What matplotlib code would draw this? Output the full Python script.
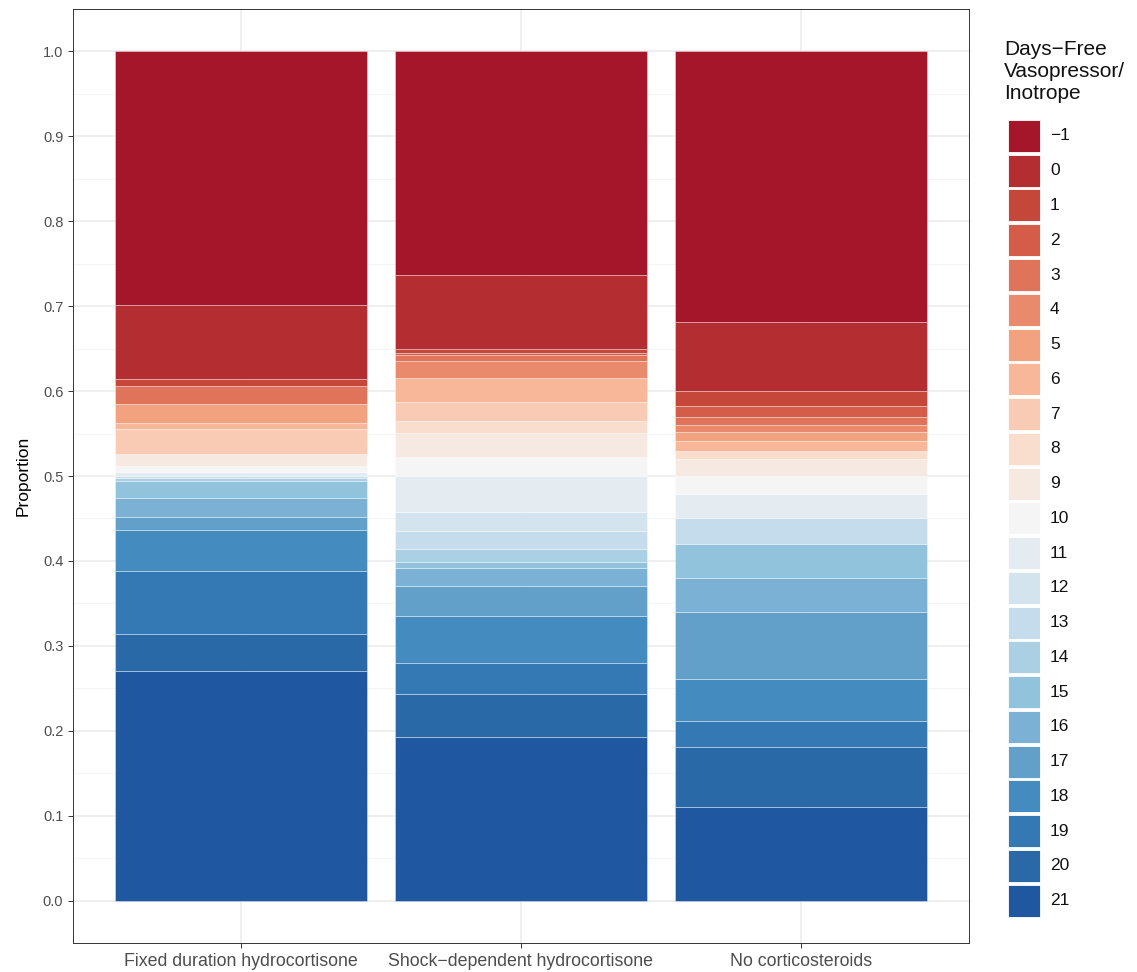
import numpy as np
import matplotlib.pyplot as plt
from matplotlib.patches import Rectangle
from matplotlib.ticker import MultipleLocator, FormatStrFormatter

plt.rcParams['font.family'] = ['Liberation Sans', 'DejaVu Sans']

# treatment arms on the x axis
treatments = ["Fixed duration hydrocortisone",
              "Shock\u2212dependent hydrocortisone",
              "No corticosteroids"]

# outcome levels, -1 = died
days_free = ["\u22121"] + [str(d) for d in range(0, 22)]

# proportion of each arm at each level, ordered -1, 0, 1, ..., 21
fixed_duration = [0.2986, 0.0874, 0.0078, 0.0, 0.0216, 0.0, 0.0216, 0.0071,
                  0.0300, 0.0, 0.0138, 0.0078, 0.0040, 0.0, 0.0030, 0.0028,
                  0.0204, 0.0220, 0.0152, 0.0491, 0.0737, 0.0443, 0.2698]
shock_dependent = [0.2631, 0.0875, 0.0040, 0.0030, 0.0067, 0.0204, 0.0, 0.0286,
                   0.0216, 0.0145, 0.0286, 0.0216, 0.0431, 0.0216, 0.0216, 0.0157,
                   0.0071, 0.0211, 0.0345, 0.0561, 0.0361, 0.0509, 0.1926]
no_steroids = [0.3192, 0.0804, 0.0184, 0.0122, 0.0098, 0.0086, 0.0098, 0.0118,
               0.0, 0.0098, 0.0196, 0.0216, 0.0286, 0.0, 0.0306, 0.0,
               0.0396, 0.0404, 0.0792, 0.0495, 0.0302, 0.0705, 0.1102]

# diverging red-blue fill, one colour per level
palette = ["#A6162A", "#B42D30", "#C4473A", "#D45C48", "#E0745A", "#EA8A6C",
           "#F3A280", "#F7B798", "#FACBB4", "#F9DDCD", "#F6E9E2", "#F5F5F5",
           "#E4ECF1", "#D4E4EF", "#C4DCEB", "#ABD0E4", "#92C3DD", "#7AB1D4",
           "#62A0CA", "#448BBF", "#3479B3", "#2A69A8", "#1F58A0"]

W, H = 1137, 972
fig = plt.figure(figsize=(W / 100, H / 100), dpi=100)
ax = fig.add_axes([73 / W, 1 - 943 / H, (969 - 73) / W, (943 - 9) / H])

props = np.array([fixed_duration, shock_dependent, no_steroids])
x = np.arange(1, len(treatments) + 1)

# stack from the top level down so that -1 ends up at the top
bottom = np.zeros(len(treatments))
for k in reversed(range(len(days_free))):
    h = props[:, k]
    keep = h > 0
    ax.bar(x[keep], h[keep], bottom=bottom[keep], width=0.9,
           color=palette[k], edgecolor=(1, 1, 1, 0.35), linewidth=0.7, zorder=2)
    bottom += h

ax.set_xlim(0.4, 3.6)
ax.set_ylim(-0.05, 1.05)
ax.yaxis.set_major_locator(MultipleLocator(0.1))
ax.yaxis.set_minor_locator(MultipleLocator(0.05))
ax.yaxis.set_major_formatter(FormatStrFormatter('%.1f'))
ax.set_xticks(x)
ax.set_xticklabels(treatments)

ax.set_axisbelow(True)
ax.grid(which='major', color='#EBEBEB', linewidth=1.1)
ax.grid(which='minor', axis='y', color='#F2F2F2', linewidth=0.6)
ax.tick_params(which='minor', length=0)
ax.tick_params(which='major', length=3.5, width=0.7, color='#333333',
               labelcolor='#4D4D4D')
ax.tick_params(axis='y', labelsize=10.5)
ax.tick_params(axis='x', labelsize=12.8, pad=4)
for s in ax.spines.values():
    s.set_color('#333333')
    s.set_linewidth(0.7)

ax.set_ylabel('Proportion', fontsize=12.5, labelpad=9)

# legend drawn on an overlay in pixel units
lax = fig.add_axes([0, 0, 1, 1], facecolor='none')
lax.set_xlim(0, W)
lax.set_ylim(H, 0)
lax.axis('off')
lax.text(1004, 40, "Days\u2212Free\nVasopressor/\nInotrope", fontsize=15,
         va='top', ha='left', color='#111111', linespacing=1.2)
step = 34.75
for i, (lab, col) in enumerate(zip(days_free, palette)):
    y0 = 120 + step * i
    lax.add_patch(Rectangle((1008, y0), 32, 32, facecolor=col,
                            edgecolor='white', linewidth=0.6))
    lax.text(1050, y0 + 16, lab, fontsize=12.5, va='center', ha='left',
             color='#111111')

fig.savefig('out.png', dpi=100)
